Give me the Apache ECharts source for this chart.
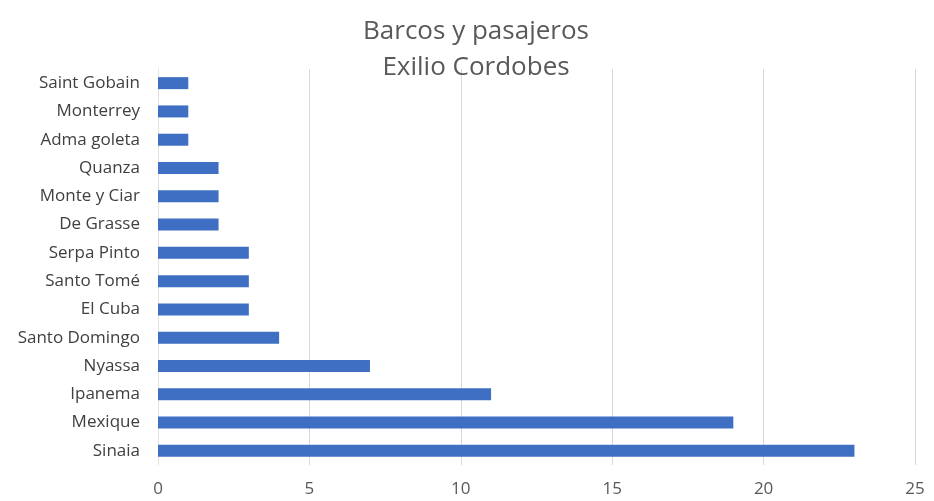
<!DOCTYPE html>
<html>
<head>
<meta charset="utf-8">
<script src="https://cdn.jsdelivr.net/npm/echarts@6/dist/echarts.min.js"></script>
<style>
  html, body { margin: 0; padding: 0; background: #ffffff; }
  #chart { width: 934px; height: 501px; }
</style>
</head>
<body>
<div id="chart"></div>
<script>
// Ships, listed bottom to top as they appear on the category axis
const ships = [
  'Sinaia', 'Mexique', 'Ipanema', 'Nyassa', 'Santo Domingo', 'El Cuba',
  'Santo Tomé', 'Serpa Pinto', 'De Grasse', 'Monte y Ciar', 'Quanza',
  'Adma goleta', 'Monterrey', 'Saint Gobain'
];
// Passengers per ship
const passengers = [23, 19, 11, 7, 4, 3, 3, 3, 2, 2, 2, 1, 1, 1];
// Value axis ticks
const xTicks = [0, 5, 10, 15, 20, 25];

const chart = echarts.init(document.getElementById('chart'), null, { renderer: 'canvas' });
const fontFamily = '"Open Sans", Lato, sans-serif';

chart.setOption({
  backgroundColor: '#ffffff',
  animation: false,
  title: {
    text: 'Barcos y pasajeros\nExilio Cordobes',
    left: 471,
    top: 9,
    textAlign: 'center',
    textStyle: {
      fontFamily: fontFamily,
      fontSize: 26,
      fontWeight: 'normal',
      color: '#595959',
      lineHeight: 36
    }
  },
  grid: { left: 158, right: 19, top: 69, bottom: 36, containLabel: false },
  xAxis: {
    type: 'value',
    min: xTicks[0],
    max: xTicks[xTicks.length - 1],
    interval: 5,
    axisLine: { show: false },
    axisTick: { show: false },
    axisLabel: { fontFamily: fontFamily, fontSize: 17, color: '#595959', margin: 16 },
    splitLine: { show: true, lineStyle: { color: '#d9d9d9', width: 1 } }
  },
  yAxis: {
    type: 'category',
    data: ships,
    axisLine: { show: true, lineStyle: { color: '#e3e3e3', width: 1 } },
    axisTick: { show: false },
    axisLabel: { fontFamily: fontFamily, fontSize: 17, color: '#404040', margin: 18 }
  },
  series: [{
    type: 'bar',
    data: passengers,
    barWidth: 12,
    itemStyle: { color: '#3e6fc2' }
  }]
});
</script>
</body>
</html>
